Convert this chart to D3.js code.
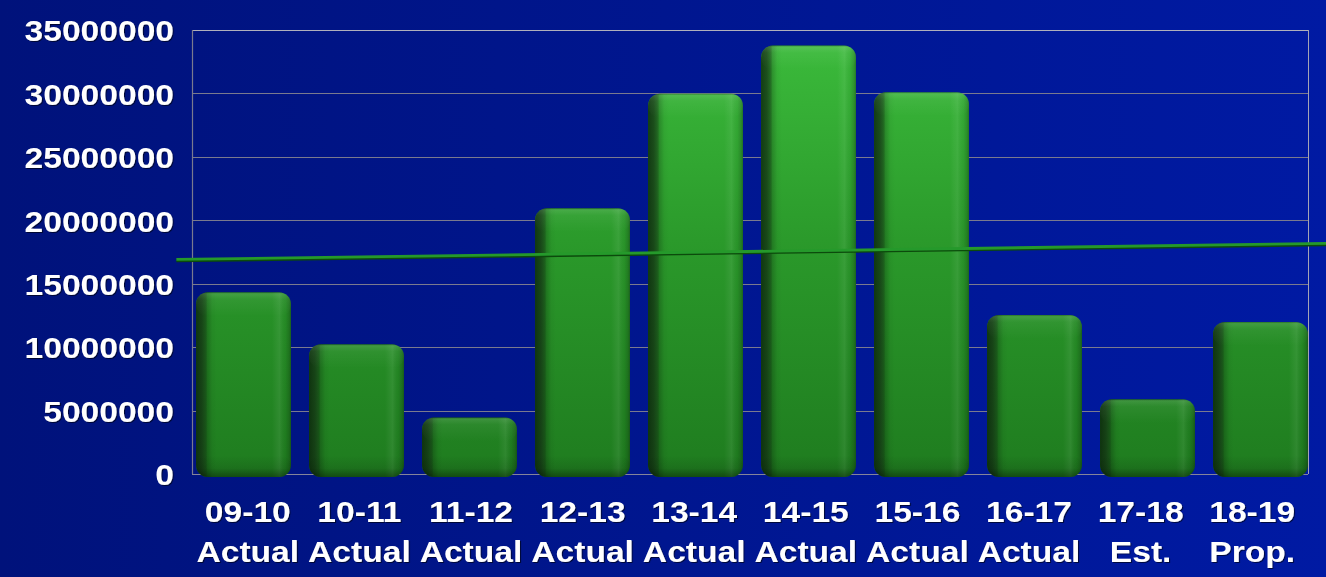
<!DOCTYPE html>
<html><head><meta charset="utf-8">
<script src="https://cdn.jsdelivr.net/npm/d3@7"></script>
<style>
html,body{margin:0;padding:0;background:#00137f;}
svg{display:block;}
text{font-family:"Liberation Sans",Arial,sans-serif;font-weight:bold;}
</style></head>
<body>
<script>
// ---- data ----
const years = ["09-10","10-11","11-12","12-13","13-14","14-15","15-16","16-17","17-18","18-19"];
const kinds = ["Actual","Actual","Actual","Actual","Actual","Actual","Actual","Actual","Est.","Prop."];
const amounts = [14330000,10230000,4460000,20950000,29970000,33780000,30100000,12540000,5890000,11990000];
const yTicks = [0,5000000,10000000,15000000,20000000,25000000,30000000,35000000];

const W = 1326, H = 577;
const frame = {left:192, right:1308, top:30, bottom:474};
const stretch = 1.12;

const svg = d3.select("body").append("svg").attr("width",W).attr("height",H);
const defs = svg.append("defs");

// background gradient
const bg = defs.append("linearGradient").attr("id","bg").attr("x1","0").attr("x2","1").attr("y1","0").attr("y2","0");
bg.append("stop").attr("offset","0").attr("stop-color","#00127b");
bg.append("stop").attr("offset","1").attr("stop-color","#001aa3");
svg.append("rect").attr("width",W).attr("height",H).attr("fill","url(#bg)");

// scales
const y = d3.scaleLinear().domain([0,35000000]).range([frame.bottom, frame.top]);
const xFrame = d3.scaleBand().domain(years).range([frame.left, frame.right]).padding(0);
const xBar = d3.scaleBand().domain(years).range([187, 1317]).paddingInner(0.16).paddingOuter(0.08);

// text shadow filter
const f = defs.append("filter").attr("id","ts").attr("x","-10%").attr("y","-20%").attr("width","130%").attr("height","150%");
f.append("feDropShadow").attr("dx",1).attr("dy",1).attr("stdDeviation",0.6).attr("flood-color","#000").attr("flood-opacity",0.6);

// gridlines
const grid = svg.append("g");
grid.selectAll("line").data(yTicks.filter(t => t>0 && t<35000000)).join("line")
  .attr("x1",frame.left).attr("x2",frame.right)
  .attr("y1",d=>Math.round(y(d))+0.5).attr("y2",d=>Math.round(y(d))+0.5)
  .attr("stroke","#7a7a8e").attr("stroke-width",1.2);
// frame
svg.append("line").attr("x1",frame.left).attr("x2",frame.right).attr("y1",y(35000000)+0.5).attr("y2",y(35000000)+0.5).attr("stroke","#b0b0bc").attr("stroke-width",1);
svg.append("line").attr("x1",frame.right+0.5).attr("x2",frame.right+0.5).attr("y1",frame.top).attr("y2",frame.bottom).attr("stroke","#a4a4b6").attr("stroke-width",1);
svg.append("line").attr("x1",frame.left+0.5).attr("x2",frame.left+0.5).attr("y1",frame.top).attr("y2",frame.bottom).attr("stroke","#7a7a8e").attr("stroke-width",1.2);
svg.append("line").attr("x1",frame.left).attr("x2",frame.right).attr("y1",y(0)+0.5).attr("y2",y(0)+0.5).attr("stroke","#84849a").attr("stroke-width",1.2);

// bar gradients
const gv = defs.append("linearGradient").attr("id","gv").attr("gradientUnits","userSpaceOnUse")
  .attr("x1",0).attr("x2",0).attr("y1",frame.top).attr("y2",frame.bottom);
gv.append("stop").attr("offset","0").attr("stop-color","#3cbc3c");
gv.append("stop").attr("offset","0.5").attr("stop-color","#2a982a");
gv.append("stop").attr("offset","1").attr("stop-color","#1f7c1f");

const gh = defs.append("linearGradient").attr("id","gh").attr("x1","0").attr("x2","1").attr("y1","0").attr("y2","0");
[[0,"#0a1f0a",0.8],[0.06,"#112811",0.72],[0.095,"#112811",0.55],[0.12,"#000",0.2],[0.17,"#000",0.04],[0.22,"#000",0],
 [0.8,"#fff",0],[0.88,"#fff",0.07],[0.94,"#000",0.04],[0.98,"#000",0.18],[1,"#000",0.32]]
 .forEach(s=>gh.append("stop").attr("offset",s[0]).attr("stop-color",s[1]).attr("stop-opacity",s[2]));

const gt = defs.append("linearGradient").attr("id","gt").attr("x1","0").attr("x2","0").attr("y1","0").attr("y2","1");
[[0,"#000",0.3],[0.08,"#fff",0.12],[0.3,"#fff",0.05],[1,"#fff",0]].forEach(s=>gt.append("stop").attr("offset",s[0]).attr("stop-color",s[1]).attr("stop-opacity",s[2]));
const gb = defs.append("linearGradient").attr("id","gb").attr("x1","0").attr("x2","0").attr("y1","0").attr("y2","1");
[[0,"#000",0],[0.6,"#000",0.1],[1,"#000",0.4]].forEach(s=>gb.append("stop").attr("offset",s[0]).attr("stop-color",s[1]).attr("stop-opacity",s[2]));

const data = years.map((yr,i)=>({yr, v:amounts[i]}));
const rx = 12;
const bars = svg.append("g").selectAll("g").data(data).join("g");
const bx = d=>xBar(d.yr), bw = xBar.bandwidth();
const btop = d=>y(d.v), bbot = y(0)+3;
bars.append("rect").attr("x",bx).attr("y",btop).attr("width",bw).attr("height",d=>bbot-btop(d))
  .attr("rx",rx).attr("fill","url(#gv)");
bars.append("rect").attr("x",bx).attr("y",btop).attr("width",bw).attr("height",d=>bbot-btop(d))
  .attr("rx",rx).attr("fill","url(#gh)");
bars.append("rect").attr("x",bx).attr("y",btop).attr("width",bw).attr("height",2*rx)
  .attr("rx",rx).attr("fill","url(#gt)");
bars.append("rect").attr("x",bx).attr("y",bbot-2*rx+2).attr("width",bw).attr("height",2*rx-2)
  .attr("rx",rx).attr("fill","url(#gb)");

// linear trend (least squares over category index)
const n = amounts.length;
const xm = d3.mean(d3.range(n)), ym = d3.mean(amounts);
const slope = d3.sum(d3.range(n), i=>(i-xm)*(amounts[i]-ym)) / d3.sum(d3.range(n), i=>(i-xm)*(i-xm));
const trend = t => ym + slope*(t-xm);
const idxToX = t => xFrame(years[0]) + xFrame.bandwidth()/2 + t*xFrame.step();
const tr = [-0.64, 10.5];
const line = d3.line().x(t=>idxToX(t)).y(t=>y(trend(t))-1.5);
svg.append("path").attr("d",line(tr)).attr("stroke","#0c4a0c").attr("stroke-width",2.2).attr("fill","none").attr("transform","translate(0,1.7)");
svg.append("path").attr("d",line(tr)).attr("stroke","#25992b").attr("stroke-width",2.8).attr("fill","none");

// y axis
const yAxis = d3.axisLeft(y).tickValues(yTicks).tickSize(0).tickPadding(0).tickFormat(d3.format("d"));
const ya = svg.append("g").attr("transform",`translate(${frame.left-18},0)`).call(yAxis);
ya.select(".domain").remove();
ya.selectAll("text").attr("x",0).attr("dy","0.36em").attr("fill","#fff").attr("font-size",30)
  .attr("transform",`scale(${stretch},1)`).attr("filter","url(#ts)");

// x axis (two-line labels)
const xAxis = d3.axisBottom(xFrame).tickSize(0).tickPadding(0);
const xa = svg.append("g").attr("transform",`translate(0,${frame.bottom})`).call(xAxis);
xa.select(".domain").remove();
xa.selectAll(".tick text").each(function(d,i){
  const t = d3.select(this);
  t.text(null).attr("y",0).attr("dy",null).attr("fill","#fff").attr("font-size",30)
   .attr("transform",`scale(${stretch},1)`).attr("filter","url(#ts)");
  t.append("tspan").attr("x",0).attr("y",48).text(d);
  t.append("tspan").attr("x",0).attr("y",88).text(kinds[i]);
});
</script>
</body></html>
